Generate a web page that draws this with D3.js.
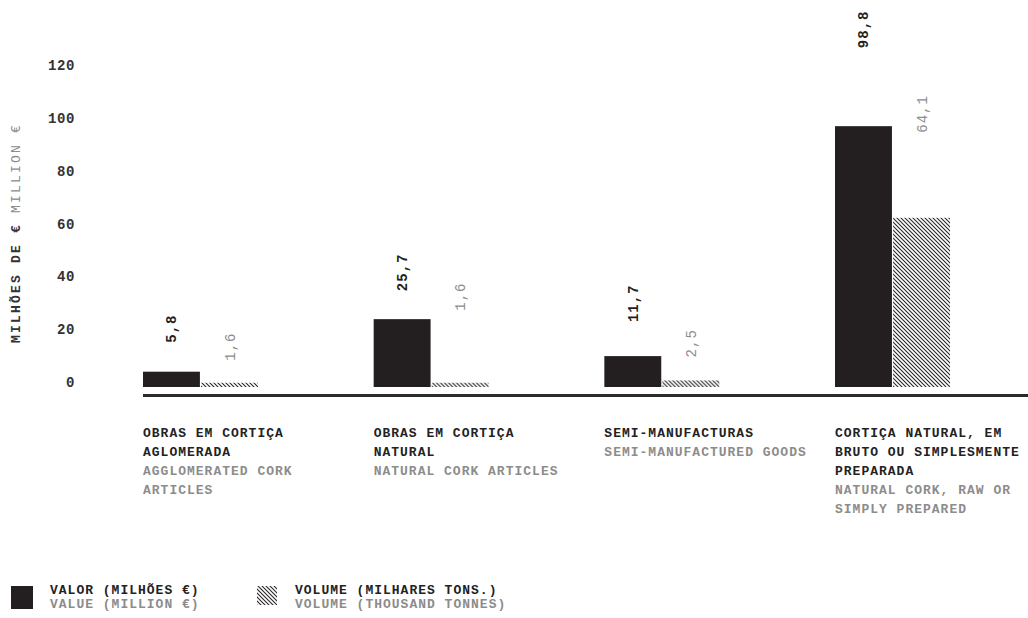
<!DOCTYPE html>
<html>
<head>
<meta charset="utf-8">
<script src="https://cdn.jsdelivr.net/npm/d3@7"></script>
<style>
  html, body { margin: 0; padding: 0; background: #fff; }
  svg { display: block; font-family: "Liberation Mono", "Courier New", monospace; }
</style>
</head>
<body>
<svg id="chart" width="1028" height="618"></svg>
<script>
// Cork exports by product group
const categoriesPT = [
  ["OBRAS EM CORTIÇA", "AGLOMERADA"],
  ["OBRAS EM CORTIÇA", "NATURAL"],
  ["SEMI-MANUFACTURAS"],
  ["CORTIÇA NATURAL, EM", "BRUTO OU SIMPLESMENTE", "PREPARADA"]
];
const categoriesEN = [
  ["AGGLOMERATED CORK", "ARTICLES"],
  ["NATURAL CORK ARTICLES"],
  ["SEMI-MANUFACTURED GOODS"],
  ["NATURAL CORK, RAW OR", "SIMPLY PREPARED"]
];
const valueMillions = [5.8, 25.7, 11.7, 98.8];
const volumeThousandT = [1.6, 1.6, 2.5, 64.1];
const yTicks = [0, 20, 40, 60, 80, 100, 120];
const seriesKeys = ["valor", "volume"];

// label lift above each bar top (px), per category: [valor, volume]
const labelLift = [[29, 22], [28, 72], [34, 23], [78, 85]];

const svg = d3.select("#chart");
const dark = "#231f20";
const grey = "#8c8c8c";
const baseY = 387;

const y = d3.scaleLinear().domain([0, 120]).range([baseY, baseY - 120 * 2.64]);
const x0 = d3.scaleBand().domain(d3.range(categoriesPT.length)).range([143, 950]).paddingInner(0.5015).paddingOuter(0);
const x1 = d3.scaleBand().domain(seriesKeys).range([0, x0.bandwidth()]).paddingInner(0.02);

// hatch pattern for volume bars
const defs = svg.append("defs");
const pat = defs.append("pattern").attr("id", "hatch").attr("patternUnits", "userSpaceOnUse")
  .attr("width", 4).attr("height", 4);
pat.append("rect").attr("width", 4).attr("height", 4).attr("fill", "#fff");
pat.append("path").attr("d", "M-1,-1L5,5M3,-1L5,1M-1,3L1,5")
  .attr("stroke", "#2a2627").attr("stroke-width", 1.1);

// y axis tick labels
const yAxis = d3.axisLeft(y).tickValues(yTicks).tickSize(0).tickPadding(0);
const gy = svg.append("g").attr("transform", "translate(75,-5)").call(yAxis);
gy.select(".domain").remove();
gy.selectAll("text").attr("font-family", "Liberation Mono, monospace")
  .attr("font-size", 14).attr("font-weight", "bold").attr("fill", "#333")
  .attr("letter-spacing", 0.6);

// y axis title
const yt = svg.append("text").attr("transform", "translate(20,233) rotate(-90)")
  .attr("text-anchor", "middle").attr("font-size", 13).attr("letter-spacing", 2.2);
yt.append("tspan").attr("font-weight", "bold").attr("fill", "#333").text("MILHÕES DE € ");
yt.append("tspan").attr("fill", grey).text("MILLION €");

// bars
const rows = valueMillions.map((v, i) => ({ i, valor: v, volume: volumeThousandT[i] }));
const groups = svg.append("g").selectAll("g").data(rows).join("g")
  .attr("transform", d => `translate(${x0(d.i)},0)`);

groups.selectAll("rect").data(d => seriesKeys.map(k => ({ k, v: d[k], i: d.i }))).join("rect")
  .attr("x", d => x1(d.k)).attr("width", x1.bandwidth())
  .attr("y", d => y(d.v)).attr("height", d => baseY - y(d.v))
  .attr("fill", d => d.k === "valor" ? dark : "url(#hatch)");

groups.selectAll("text.val").data(d => seriesKeys.map((k, j) => ({ k, j, v: d[k], i: d.i }))).join("text")
  .attr("class", "val")
  .attr("transform", d => `translate(${x1(d.k) + x1.bandwidth() / 2 + 5},${y(d.v) - labelLift[d.i][d.j]}) rotate(-90)`)
  .attr("font-size", 14).attr("letter-spacing", 1)
  .attr("font-weight", d => d.k === "valor" ? "bold" : "normal")
  .attr("fill", d => d.k === "valor" ? dark : grey)
  .text(d => d3.format(".1f")(d.v).replace(".", ","));

// baseline
svg.append("line").attr("x1", 143).attr("x2", 1028).attr("y1", 395.5).attr("y2", 395.5)
  .attr("stroke", "#2b2b2b").attr("stroke-width", 3);

// category labels
const lineH = 19;
categoriesPT.forEach((pt, i) => {
  const t = svg.append("text").attr("x", x0(i)).attr("y", 437)
    .attr("font-size", 13).attr("font-weight", "bold").attr("letter-spacing", 1);
  let n = 0;
  pt.forEach(s => { t.append("tspan").attr("x", x0(i)).attr("dy", n++ ? lineH : 0).attr("fill", "#222").text(s); });
  categoriesEN[i].forEach(s => { t.append("tspan").attr("x", x0(i)).attr("dy", lineH).attr("fill", grey).text(s); });
});

// legend
const lg = svg.append("g");
lg.append("rect").attr("x", 11).attr("y", 586).attr("width", 22).attr("height", 23).attr("fill", dark);
lg.append("rect").attr("x", 257).attr("y", 586).attr("width", 20).attr("height", 19).attr("fill", "url(#hatch)");
const legendText = [
  { x: 50, pt: "VALOR (MILHÕES €)", en: "VALUE (MILLION €)" },
  { x: 295, pt: "VOLUME (MILHARES TONS.)", en: "VOLUME (THOUSAND TONNES)" }
];
legendText.forEach(d => {
  lg.append("text").attr("x", d.x).attr("y", 594).attr("font-size", 13).attr("font-weight", "bold")
    .attr("letter-spacing", 1).attr("fill", "#222").text(d.pt);
  lg.append("text").attr("x", d.x).attr("y", 608).attr("font-size", 13).attr("font-weight", "bold")
    .attr("letter-spacing", 1).attr("fill", grey).text(d.en);
});
</script>
</body>
</html>
